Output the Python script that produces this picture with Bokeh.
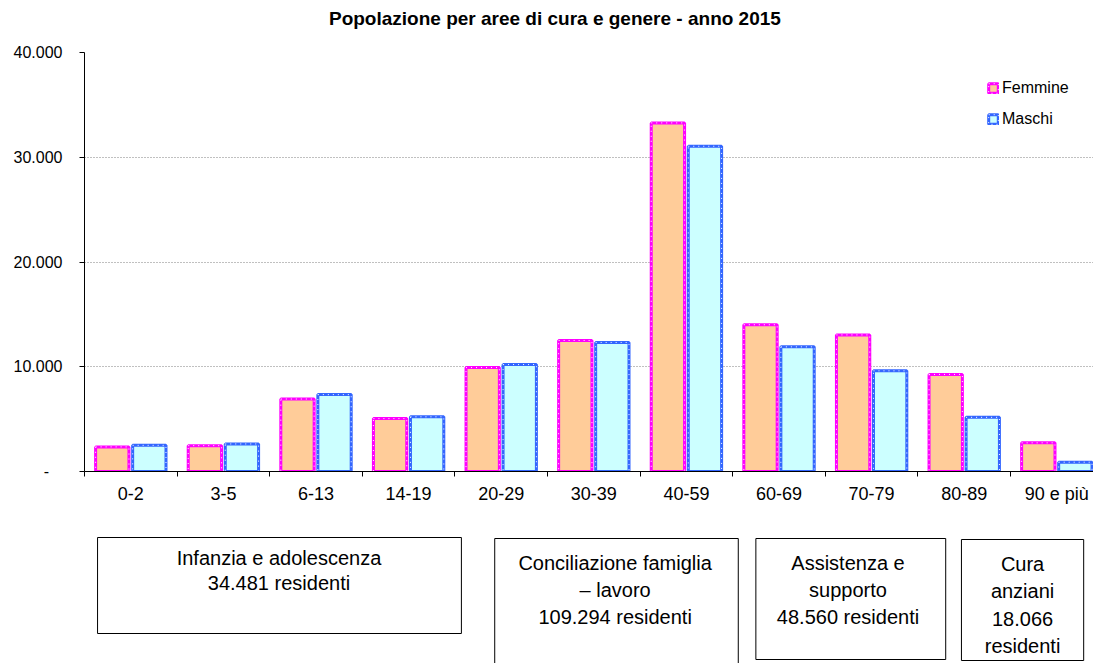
import numpy as np
from bokeh.plotting import figure
from bokeh.models import Range1d, FixedTicker, CustomJSTickFormatter, Legend, LegendItem
from bokeh.layouts import column
from bokeh.embed import file_html
from bokeh.resources import INLINE
from bokeh.core.properties import value

# ---------------- data ----------------
categories = ["0-2", "3-5", "6-13", "14-19", "20-29", "30-39",
              "40-59", "60-69", "70-79", "80-89", "90 e più"]
femmine = [2350, 2470, 6920, 5050, 9920, 12510, 33280, 14010, 13040, 9270, 2736]
maschi = [2500, 2630, 7340, 5220, 10210, 12320, 31050, 11900, 9610, 5170, 890]
series_names = ["Femmine", "Maschi"]
y_ticks = [0, 10000, 20000, 30000, 40000]
y_tick_labels = ["-\u00a0\u00a0\u00a0", "10.000", "20.000", "30.000", "40.000"]
title_text = "Popolazione per aree di cura e genere - anno 2015"
area_lines = [
    ["Infanzia e adolescenza", "34.481 residenti"],
    ["Conciliazione famiglia", "\u2013 lavoro", "109.294 residenti"],
    ["Assistenza e", "supporto", "48.560 residenti"],
    ["Cura", "anziani", "18.066", "residenti"],
]

# ---------------- layout / style ----------------
FONT = "Liberation Sans"
W = 1093
H0 = 34
H1 = 486
H2 = 143
LEFT = 84
X_END = 10.896
BAR_W = 0.36
OFFSET = 0.2
F_FILL, F_LINE = "#FFCC99", "#FF00FF"
M_FILL, M_LINE = "#CCFFFF", "#3366FF"
TITLE_X, TITLE_Y = 5.08, 18

box_left = [0.141, 4.43, 7.25, 9.47]
box_right = [4.07, 7.06, 9.30, 10.79]
box_top = [17, 18, 18, 19]
box_bottom = [113, 180, 139, 140]
box_cx = [2.10, 5.73, 8.245, 10.13]
box_first_line = [37, 42, 42, 43]
box_line_gap = [25, 27, 27, 27.5]

idx = np.arange(len(categories))
shared_x = Range1d(0, X_END)

# ---------------- title strip ----------------
t = figure(width=W, height=H0, x_range=shared_x, y_range=Range1d(H0, 0),
           output_backend="svg", toolbar_location=None, x_axis_type=None, y_axis_type=None,
           min_border_left=LEFT, min_border_right=0, min_border_top=0, min_border_bottom=0)
t.outline_line_color = None
t.grid.visible = False
t.text(x=[TITLE_X], y=[TITLE_Y], text=[title_text], text_align="center", text_baseline="middle",
       text_font=value(FONT), text_font_size="19px", text_font_style="bold", text_color="#000000")

# ---------------- main chart ----------------
p = figure(width=W, height=H1, x_range=shared_x, y_range=Range1d(0, 40000),
           output_backend="svg", toolbar_location=None,
           min_border_left=LEFT, min_border_right=0, min_border_top=18, min_border_bottom=49)
p.outline_line_color = None
p.title.standoff = 0

# bars
fx = idx + 0.5 - OFFSET
mx = idx + 0.5 + OFFSET
f_r = p.vbar(x=fx, top=femmine, width=BAR_W, bottom=0, fill_color=F_FILL,
             line_color=F_LINE, line_width=3)
f_d = p.vbar(x=fx, top=femmine, width=BAR_W, bottom=0, fill_color=None,
             line_color="white", line_width=1, line_dash="1 4")
m_r = p.vbar(x=mx, top=maschi, width=BAR_W, bottom=0, fill_color=M_FILL,
             line_color=M_LINE, line_width=3)
m_d = p.vbar(x=mx, top=maschi, width=BAR_W, bottom=0, fill_color=None,
             line_color="white", line_width=1, line_dash="1 4")

# y axis
yax = p.yaxis[0]
yax.ticker = FixedTicker(ticks=y_ticks, minor_ticks=[])
yax.major_label_overrides = {tk: lb for tk, lb in zip(y_ticks, y_tick_labels)}
yax.major_label_text_font = FONT
yax.major_label_text_font_size = "16px"
yax.major_label_text_color = "#000000"
yax.axis_line_color = "#000000"
yax.major_tick_line_color = "#000000"
yax.major_tick_out = 5
yax.major_tick_in = 0
yax.major_label_standoff = 17

# x axis
xax = p.xaxis[0]
xax.ticker = FixedTicker(ticks=list(idx + 0.5), minor_ticks=list(range(len(categories) + 1)))
xax.formatter = CustomJSTickFormatter(args=dict(labels=categories),
                                      code="const i = Math.floor(tick); return labels[i] ?? '';")
xax.major_label_text_font = FONT
xax.major_label_text_font_size = "18px"
xax.major_label_text_color = "#000000"
xax.axis_line_color = "#000000"
xax.major_tick_out = 0
xax.major_tick_in = 0
xax.minor_tick_line_color = "#000000"
xax.minor_tick_out = 5
xax.minor_tick_in = 0
xax.major_label_standoff = 7

# grid
p.xgrid.visible = False
p.ygrid.ticker = FixedTicker(ticks=y_ticks[1:])
p.ygrid.grid_line_color = "#808080"
p.ygrid.grid_line_dash = "1 2"
p.ygrid.grid_line_width = 1

# legend
legend = Legend(items=[LegendItem(label=series_names[0], renderers=[f_r, f_d]),
                       LegendItem(label=series_names[1], renderers=[m_r, m_d])],
                location=(903, 343), orientation="vertical")
legend.glyph_width = 12
legend.glyph_height = 12
legend.label_height = 19
legend.spacing = 12
legend.padding = 0
legend.margin = 0
legend.label_standoff = 3
legend.border_line_color = None
legend.background_fill_alpha = 0
legend.label_text_font = FONT
legend.label_text_font_size = "16px"
legend.label_text_color = "#000000"
p.add_layout(legend, "center")

# ---------------- area boxes ----------------
q = figure(width=W, height=H2, x_range=shared_x, y_range=Range1d(H2, 0),
           output_backend="svg", toolbar_location=None, x_axis_type=None, y_axis_type=None,
           min_border_left=LEFT, min_border_right=0, min_border_top=0, min_border_bottom=0)
q.outline_line_color = None
q.grid.visible = False
q.quad(left=box_left, right=box_right, top=box_top, bottom=box_bottom,
       fill_color=None, line_color="#000000", line_width=1)

tx, ty, tt = [], [], []
for i, lines in enumerate(area_lines):
    for j, s in enumerate(lines):
        tx.append(box_cx[i])
        ty.append(box_first_line[i] + j * box_line_gap[i])
        tt.append(s)
q.text(x=tx, y=ty, text=tt, text_align="center", text_baseline="middle",
       text_font=value(FONT), text_font_size="20px", text_color="#000000")

layout = column(t, p, q, spacing=0)
open("out.html", "w").write(file_html(layout, INLINE))
